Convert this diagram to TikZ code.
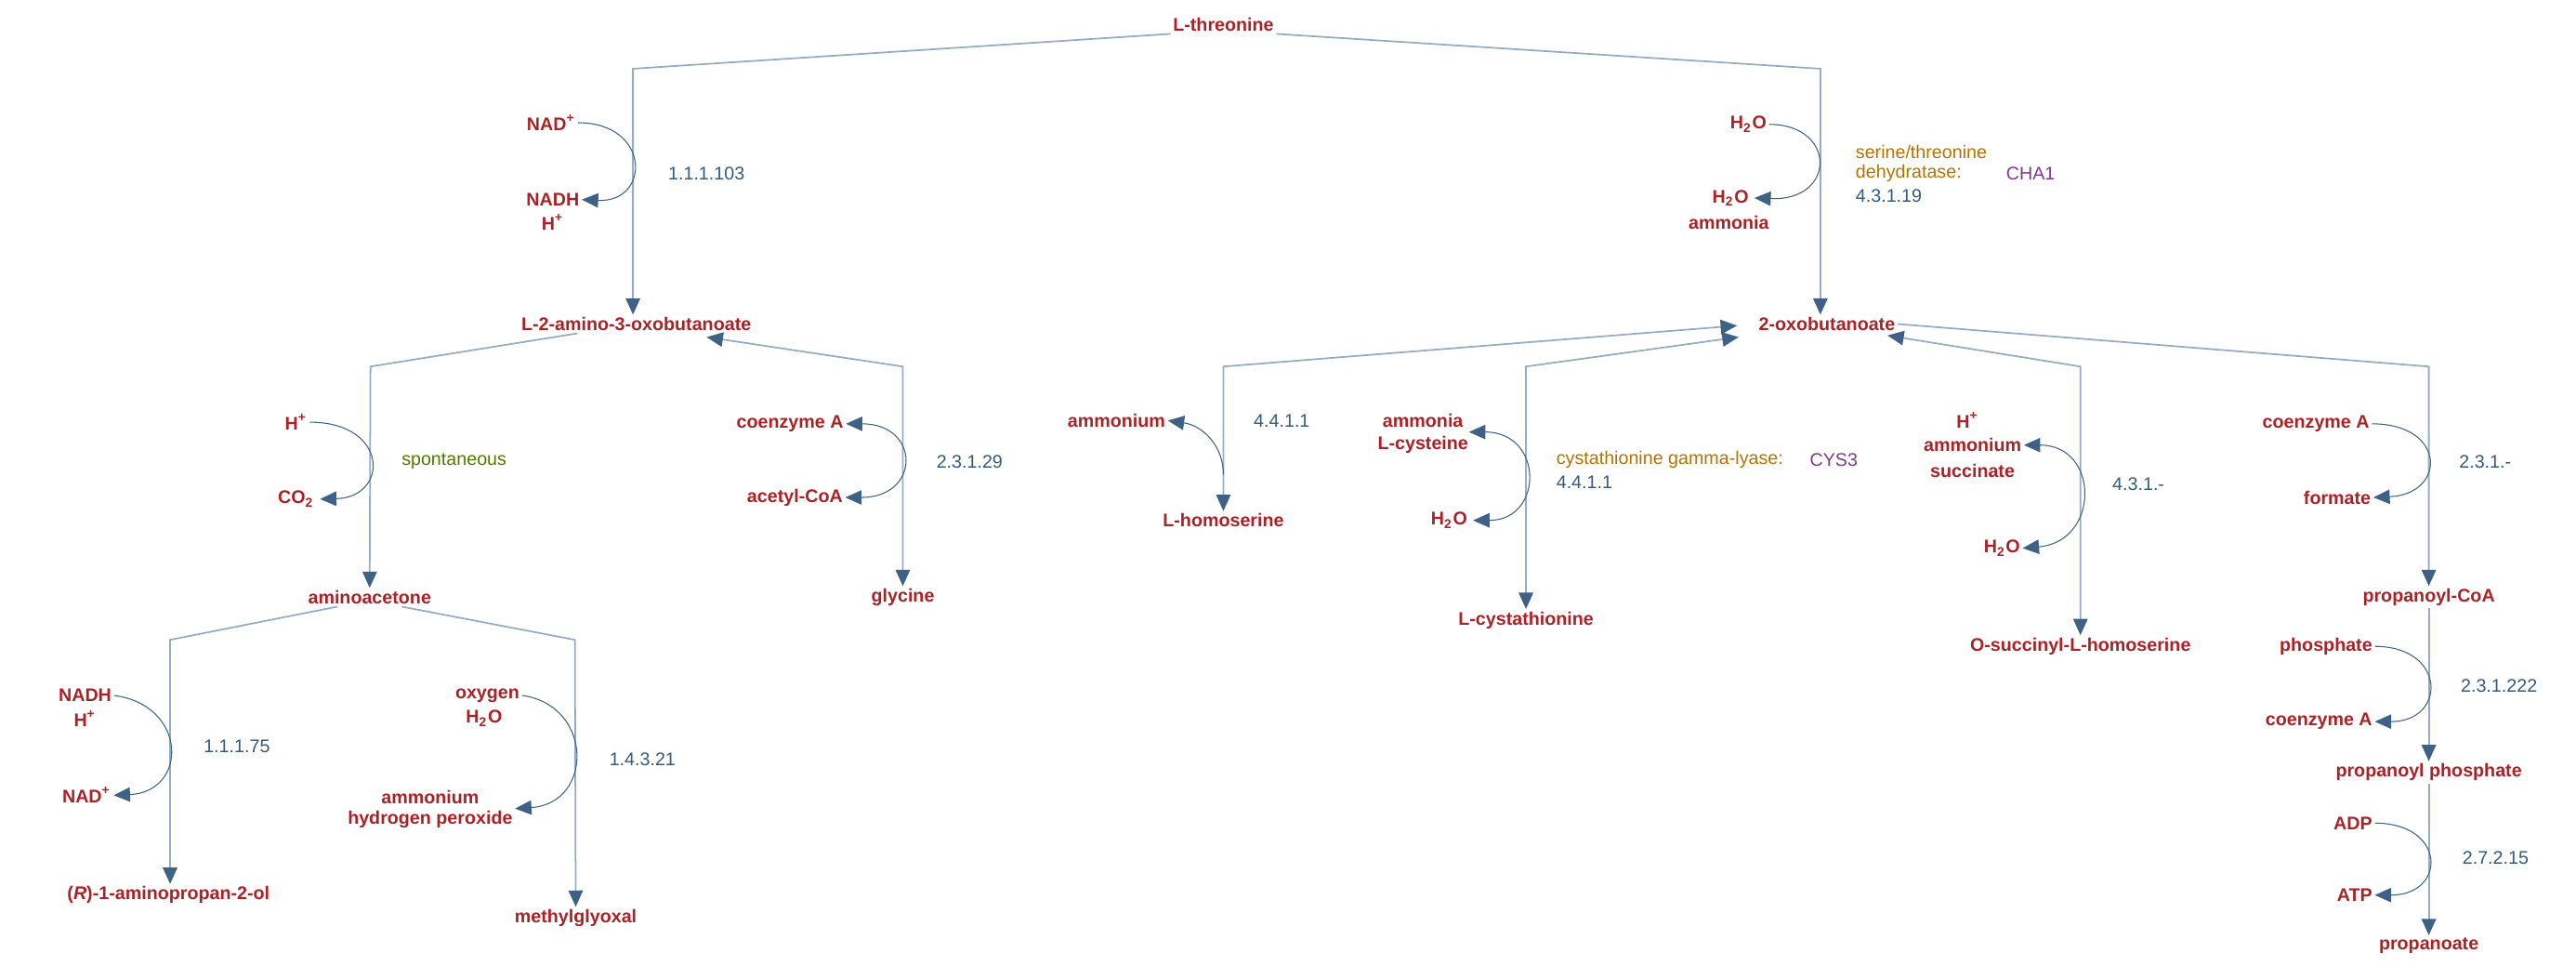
\documentclass[tikz,border=0pt]{standalone}
\usepackage{fontspec}
\setmainfont{Liberation Sans}
\usetikzlibrary{arrows.meta,calc}
\definecolor{cred}{RGB}{170,34,38}
\definecolor{cblue}{RGB}{52,90,125}
\definecolor{lmain}{RGB}{150,172,196}
\definecolor{tipc}{RGB}{62,98,133}
\definecolor{corange}{RGB}{180,115,0}
\definecolor{cpurple}{RGB}{125,60,135}
\definecolor{cgreen}{RGB}{85,120,0}
\begin{document}
\begin{tikzpicture}[x=0.0176cm,y=-0.0176cm,
  every node/.style={inner sep=0.6pt,font=\fontsize{5.6}{6.8}\selectfont},
  cpd/.style={text=cred,font=\fontsize{5.6}{6.8}\selectfont\bfseries},
  ec/.style={text=cblue,anchor=west},
  en/.style={text=corange,anchor=west},
  gn/.style={text=cpurple,anchor=west},
  tp/.tip={Triangle[length=5pt,width=4.4pt,color=tipc,fill=tipc]},
  main/.style={draw=lmain,line width=0.5pt},
  side/.style={draw=tipc,line width=0.3pt}]
\useasboundingbox (0,0) rectangle (1575,590);
% compounds
\node[cpd] (thr) at (748,15) {L-threonine};
\node[cpd] (nadp) at (337,75) {NAD\textsuperscript{+}};
\node[cpd] (nadh) at (338,122) {NADH};
\node[cpd] (hpa) at (338,136) {H\textsuperscript{+}};
\node[cpd] (wa) at (1069,76) {H\textsubscript{2}O};
\node[cpd] (wb) at (1058,121) {H\textsubscript{2}O};
\node[cpd] (amma) at (1057,136) {ammonia};
\node[cpd] (amino) at (389,198) {L-2-amino-3-oxobutanoate};
\node[cpd] (oxo) at (1117,198) {2-oxobutanoate};
\node[cpd] (hpb) at (181,258) {H\textsuperscript{+}};
\node[cpd] (co2) at (181,305) {CO\textsubscript{2}};
\node[cpd] (coaa) at (483,259) {coenzyme A};
\node[cpd] (acoa) at (486,304) {acetyl-CoA};
\node[cpd] (aac) at (226,365) {aminoacetone};
\node[cpd] (gly) at (552,365) {glycine};
\node[cpd,anchor=east] (ammb) at (714,257) {ammonium};
\node[cpd] (hser) at (748,318) {L-homoserine};
\node[cpd] (ammc) at (870,257) {ammonia};
\node[cpd] (cys) at (870,272) {L-cysteine};
\node[cpd] (wc) at (886,318) {H\textsubscript{2}O};
\node[cpd] (cth) at (933,379) {L-cystathionine};
\node[cpd] (hpc) at (1203,257) {H\textsuperscript{+}};
\node[cpd] (ammd) at (1206,272) {ammonium};
\node[cpd] (suc) at (1206,288) {succinate};
\node[cpd] (wd) at (1224,335) {H\textsubscript{2}O};
\node[cpd] (osh) at (1272,395) {O-succinyl-L-homoserine};
\node[cpd] (coab) at (1416,259) {coenzyme A};
\node[cpd] (form) at (1429,304) {formate};
\node[cpd] (pcoa) at (1485,365) {propanoyl-CoA};
\node[cpd,anchor=east] (phos) at (1452,395) {phosphate};
\node[cpd,anchor=east] (coac) at (1452,441) {coenzyme A};
\node[cpd] (pphos) at (1485,472) {propanoyl phosphate};
\node[cpd,anchor=east] (adp) at (1452,503) {ADP};
\node[cpd,anchor=east] (atp) at (1452,547) {ATP};
\node[cpd] (prop) at (1485,578) {propanoate};
\node[cpd] (nadhb) at (52,425) {NADH};
\node[cpd] (hpd) at (52,439) {H\textsuperscript{+}};
\node[cpd] (nadpb) at (53,486) {NAD\textsuperscript{+}};
\node[cpd] (rol) at (103,547) {(\textit{R})-1-aminopropan-2-ol};
\node[cpd] (oxy) at (298,425) {oxygen};
\node[cpd] (we) at (296,439) {H\textsubscript{2}O};
\node[cpd] (amme) at (263,487) {ammonium};
\node[cpd] (hpo) at (263,501) {hydrogen peroxide};
\node[cpd] (mgo) at (352,561) {methylglyoxal};
% enzyme labels
\node[ec] (e1) at (407,106) {1.1.1.103};
\node[en] (e2) at (1133,93) {serine/threonine};
\node[en] (e3) at (1133,106) {dehydratase:};
\node[gn] (e4) at (1225,106) {CHA1};
\node[ec] (e5) at (1133,120) {4.3.1.19};
\node[text=cgreen,anchor=west] (e6) at (244,282) {spontaneous};
\node[ec] (e7) at (571,282) {2.3.1.29};
\node[ec] (e8) at (765,257) {4.4.1.1};
\node[en] (e9) at (950,281) {cystathionine gamma-lyase:};
\node[gn] (e10) at (1105,281) {CYS3};
\node[ec] (e11) at (950,295) {4.4.1.1};
\node[ec] (e12) at (1290,296) {4.3.1.-};
\node[ec] (e13) at (1502,282) {2.3.1.-};
\node[ec] (e14) at (1503,419) {2.3.1.222};
\node[ec] (e15) at (1504,524) {2.7.2.15};
\node[ec] (e16) at (123,456) {1.1.1.75};
\node[ec] (e17) at (371,464) {1.4.3.21};
% main connectors
\draw[main,-tp] (thr.south west) -- (387,42) -- (387,189) -- (amino.north -| 387,0);
\draw[main,-tp] (thr.south east) -- (1113,42) -- (oxo.north -| 1113,0);
\draw[main,-tp] ($(amino.south west)!0.25!(amino.south east)$) -- (226.5,224) -- (aac.north);
\draw[main,tp-tp] (432,206) -- (552,224) -- (gly.north);
\draw[main,-tp] ($(aac.south west)!0.25!(aac.south east)$) -- (104,391) -- (rol.north -| 104,0);
\draw[main,-tp] ($(aac.south west)!0.75!(aac.south east)$) -- (351.5,391) -- (mgo.north);
\draw[main,tp-tp] (1062,199) -- (748,224) -- (hser.north);
\draw[main,tp-tp] (1063,206) -- (933,224) -- (cth.north);
\draw[main,tp-tp] (1154,205) -- (1272,224) -- (osh.north);
\draw[main,-tp] (oxo.east) -- (1485,224) -- (pcoa.north);
\draw[main,-tp] (pcoa.south) -- (pphos.north);
\draw[main,-tp] (pphos.south) -- (prop.north);
% side curves
\draw[side,-tp] (nadp.east) .. controls (398,75) and (398,124) .. (nadh.east);
\draw[side,-tp] (wa.east) .. controls (1123,76) and (1123,123) .. ([xshift=1pt]wb.east);
\draw[side,-tp] (hpb.east) .. controls (238,258) and (238,304) .. ([xshift=1pt]co2.east);
\draw[side,tp-tp] (coaa.east) .. controls (563,259) and (563,304) .. (acoa.east);
\draw[side,-tp] (748,290) .. controls (748,272) and (735,260) .. (ammb.east);
\draw[side,tp-tp] ([xshift=1pt]ammc.east |- 0,264) .. controls (944,264) and (944,318) .. ([xshift=1pt]wc.east);
\draw[side,tp-tp] (ammd.east) .. controls (1284,272) and (1284,331) .. (wd.east);
\draw[side,-tp] (coab.east) .. controls (1496,259) and (1496,302) .. (form.east);
\draw[side,-tp] (phos.east) .. controls (1496,395) and (1496,441) .. (coac.east);
\draw[side,-tp] (adp.east) .. controls (1496,503) and (1496,547) .. (atp.east);
\draw[side,-tp] (nadhb.east) .. controls (115,431) and (115,484) .. (nadpb.east);
\draw[side,-tp] (oxy.east) .. controls (363,431) and (363,491) .. (hpo.north east);
\end{tikzpicture}
\end{document}
